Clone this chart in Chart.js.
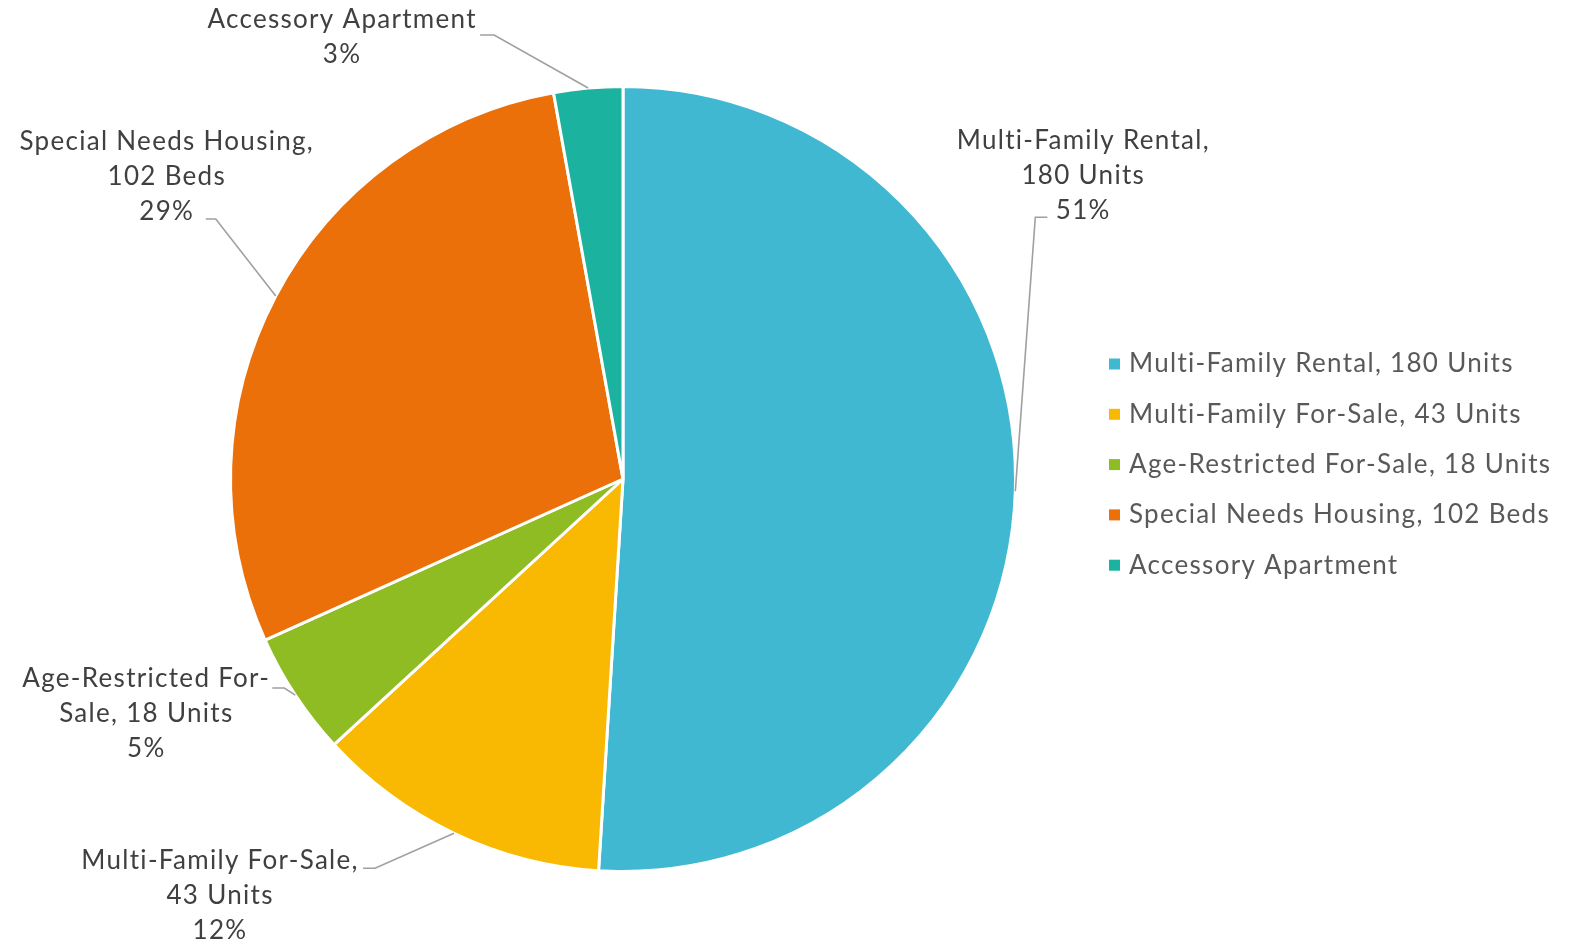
<!DOCTYPE html>
<html>
<head>
<meta charset="utf-8">
<script src="https://cdn.jsdelivr.net/npm/chart.js@4"></script>
<style>
  html, body { margin: 0; padding: 0; background: #fff; }
  canvas { display: block; }
</style>
</head>
<body>
<canvas id="housing-chart" width="1581" height="943"></canvas>
<script>
// data
let categories = [
    'Multi-Family Rental, 180 Units',
    'Multi-Family For-Sale, 43 Units',
    'Age-Restricted For-Sale, 18 Units',
    'Special Needs Housing, 102 Beds',
    'Accessory Apartment'
];
let values = [180, 43, 18, 102, 10];
let labelLines = [
    ['Multi-Family Rental,', '180 Units'],
    ['Multi-Family For-Sale,', '43 Units'],
    ['Age-Restricted For-', 'Sale, 18 Units'],
    ['Special Needs Housing,', '102 Beds'],
    ['Accessory Apartment']
];
let colors = ['#41B8D2', '#F9B801', '#8FBB23', '#EC700A', '#1CB2A0'];

// where each data label sits, relative to the point on the slice edge
let labelLayout = [
    { elbow: [20, -274], tail: 12, textDx: 48, attach: 'last', textDy: -7 },
    { elbow: [-79, 35], tail: -12, textDx: -155, attach: 'first', textDy: -8 },
    { elbow: [-11, -7], tail: -12, textDx: -138, attach: 'first', textDy: -9 },
    { elbow: [-60, -77], tail: -10, textDx: -49, attach: 'last', textDy: -7 },
    { elbow: [-94, -53], tail: -14, textDx: -152, attach: 'first', textDy: -15 }
];

const FONT = '26px Lato';
const SPACING = '1.3px';
const LINE_GAP = 35;

let total = values.reduce((a, b) => a + b, 0);

const sliceLabels = {
    id: 'sliceLabels',
    afterDatasetsDraw(chart) {
        let ctx = chart.ctx;
        let meta = chart.getDatasetMeta(0);
        ctx.save();
        ctx.font = FONT;
        ctx.letterSpacing = SPACING;
        ctx.textAlign = 'center';
        ctx.textBaseline = 'middle';
        meta.data.forEach((arc, i) => {
            let lay = labelLayout[i];
            let mid = (arc.startAngle + arc.endAngle) / 2;
            let ax = arc.x + Math.cos(mid) * arc.outerRadius;
            let ay = arc.y + Math.sin(mid) * arc.outerRadius;
            let ex = ax + lay.elbow[0];
            let ey = ay + lay.elbow[1];

            ctx.strokeStyle = '#A0A0A0';
            ctx.lineWidth = 1.6;
            ctx.beginPath();
            ctx.moveTo(ax, ay);
            ctx.lineTo(ex, ey);
            ctx.lineTo(ex + lay.tail, ey);
            ctx.stroke();

            let lines = labelLines[i].concat([Math.round(values[i] / total * 100) + '%']);
            let firstY = lay.attach == 'first'
                ? ey + lay.textDy
                : ey + lay.textDy - (lines.length - 1) * LINE_GAP;
            ctx.fillStyle = '#404040';
            lines.forEach((t, k) => {
                ctx.fillText(t, ex + lay.textDx, firstY + k * LINE_GAP);
            });
        });
        ctx.restore();
    }
};

const sideLegend = {
    id: 'sideLegend',
    afterDraw(chart) {
        let ctx = chart.ctx;
        ctx.save();
        ctx.font = FONT;
        ctx.letterSpacing = SPACING;
        ctx.textAlign = 'left';
        ctx.textBaseline = 'middle';
        categories.forEach((c, i) => {
            let y = 364 + i * 50.3;
            ctx.fillStyle = colors[i];
            ctx.fillRect(1109, y - 5.5, 11, 11);
            ctx.fillStyle = '#595959';
            ctx.fillText(c, 1129, y);
        });
        ctx.restore();
    }
};

let housingChart = document.getElementById('housing-chart').getContext('2d');

let housing = new Chart(housingChart, {
    type: 'pie',
    data: {
        labels: categories,
        datasets: [{
            data: values,
            backgroundColor: colors,
            borderColor: '#FFFFFF',
            borderWidth: 3
        }]
    },
    options: {
        responsive: false,
        animation: false,
        layout: {
            padding: { left: 229, right: 564, top: 85, bottom: 70 }
        },
        plugins: {
            legend: { display: false },
            tooltip: { enabled: false }
        }
    },
    plugins: [sliceLabels, sideLegend]
});
</script>
</body>
</html>
